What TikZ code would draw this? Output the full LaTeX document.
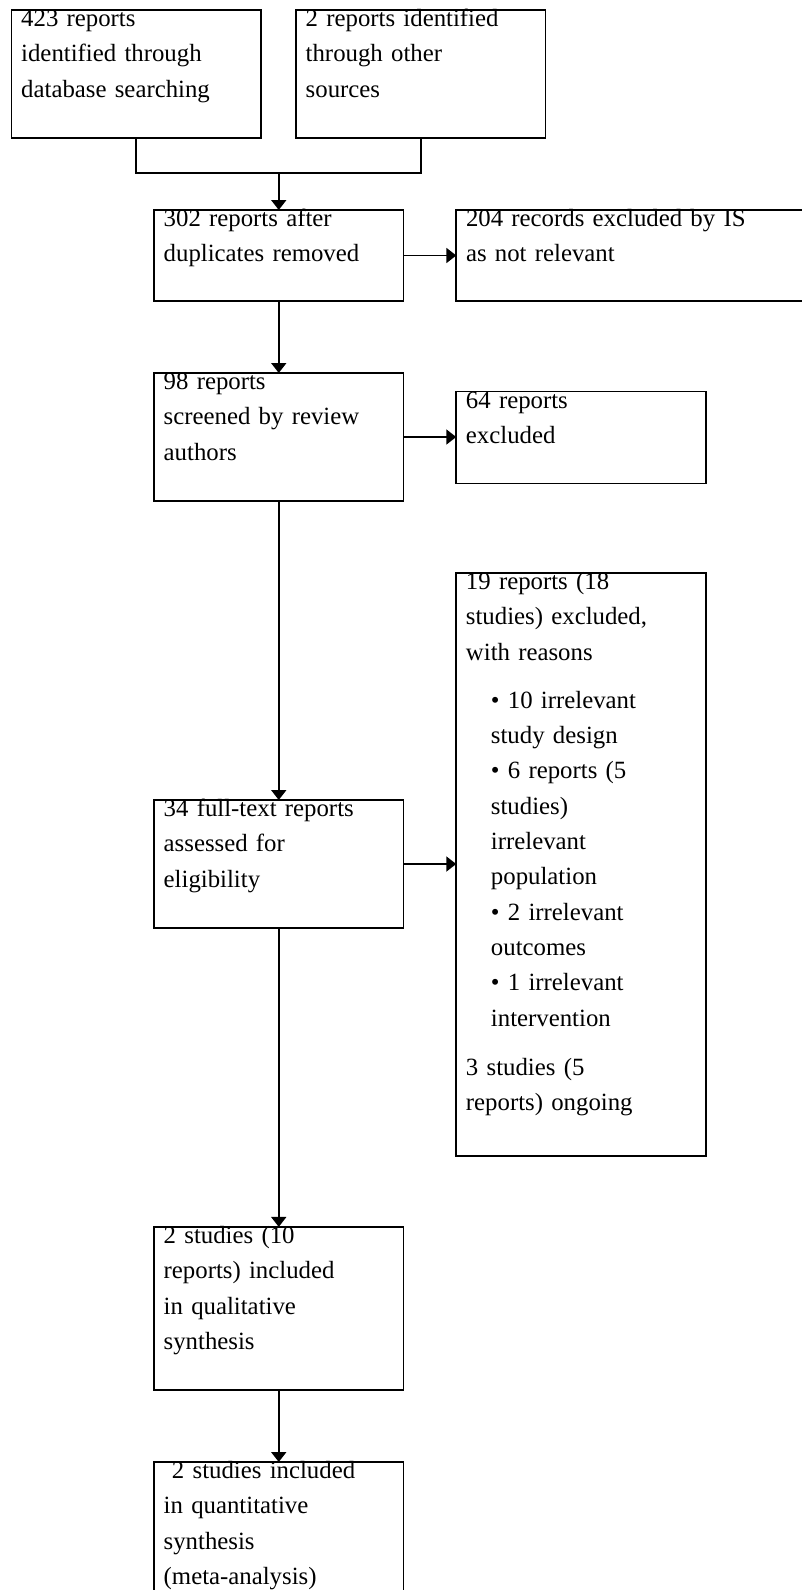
\documentclass[tikz,border=0pt]{standalone}
\usepackage{fontspec}
\setmainfont{Liberation Serif}
\usetikzlibrary{arrows.meta}
\def\Indent{\hspace*{25pt}}

\begin{document}
\begin{tikzpicture}[x=1pt, y=-1pt,
  every path/.style={black},
  box/.style={draw, line width=1.9pt, minimum width=249.5pt, inner sep=0pt, outer sep=0pt},
  txt/.style={anchor=base west, inner sep=0pt, text width=330pt, align=left,
    font=\fontsize{24.8}{35.3}\selectfont},
  arr/.style={line width=1.9pt, -{Triangle[width=15pt,length=10pt]}}]
  \useasboundingbox (0,0) rectangle (802,1590);
  \node[box, minimum height=128pt] (db) at (136.25,74) {};
  \node[box, minimum height=128pt] (other) at (420.75,74) {};
  \node[box, minimum height=91pt] (dup) at (278.75,255.5) {};
  \node[box, minimum height=91pt, minimum width=374pt] (irr) at (643.3,255.5) {};
  \node[box, minimum height=128pt] (scr) at (278.75,437) {};
  \node[box, minimum height=92pt] (excl) at (581,437.5) {};
  \node[box, minimum height=128pt] (full) at (278.75,864) {};
  \node[box, minimum height=583pt] (why) at (581,864.4) {};
  \node[box, minimum height=163pt] (qual) at (278.75,1308.4) {};
  \node[box, minimum height=170pt] (quant) at (278.75,1547) {};

  \node[txt] (db-t) at ([shift={(9.5,16.5)}]db.north west) {423 reports\\ identified through\\ database searching};
  \node[txt] (other-t) at ([shift={(9.5,16.5)}]other.north west) {2 reports identified\\ through other\\ sources};
  \node[txt] (dup-t) at ([shift={(9.5,16.5)}]dup.north west) {302 reports after\\ duplicates removed};
  \node[txt] (irr-t) at ([shift={(9.5,16.5)}]irr.north west) {204 records excluded by IS\\ as not relevant};
  \node[txt] (scr-t) at ([shift={(9.5,16.5)}]scr.north west) {98 reports\\ screened by review\\ authors};
  \node[txt] (excl-t) at ([shift={(9.5,16.5)}]excl.north west) {64 reports\\ excluded};
  \node[txt] (full-t) at ([shift={(9.5,16.5)}]full.north west) {34 full-text reports\\ assessed for\\ eligibility};
  \node[txt] (why-t) at ([shift={(9.5,16.5)}]why.north west) {19 reports (18\\ studies) excluded,\\ with reasons\\[13pt]
    \Indent• 10 irrelevant\\ \Indent study design\\ \Indent• 6 reports (5\\ \Indent studies)\\
    \Indent irrelevant\\ \Indent population\\ \Indent• 2 irrelevant\\ \Indent outcomes\\
    \Indent• 1 irrelevant\\ \Indent intervention\\[14pt]
    3 studies (5\\ reports) ongoing};
  \node[txt] (qual-t) at ([shift={(9.5,16.5)}]qual.north west) {2 studies (10\\ reports) included\\ in qualitative\\ synthesis};
  \node[txt] (quant-t) at ([shift={(9.5,16.5)}]quant.north west) {\ 2 studies included\\ in quantitative\\ synthesis\\ (meta-analysis)};

  \coordinate (join) at (278.75,173.4);
  \draw[line width=1.9pt] (db.south) |- (join) -| (other.south);
  \draw[arr] (join) -- (dup);
  \foreach \a/\b in {dup/scr, scr/full, full/qual, qual/quant}
    \draw[arr] (\a) -- (\b);
  \foreach \a/\b in {dup/irr, scr/excl, full/why}
    \draw[arr] (\a.east) -- (\a.east -| \b.west);
\end{tikzpicture}
\end{document}
